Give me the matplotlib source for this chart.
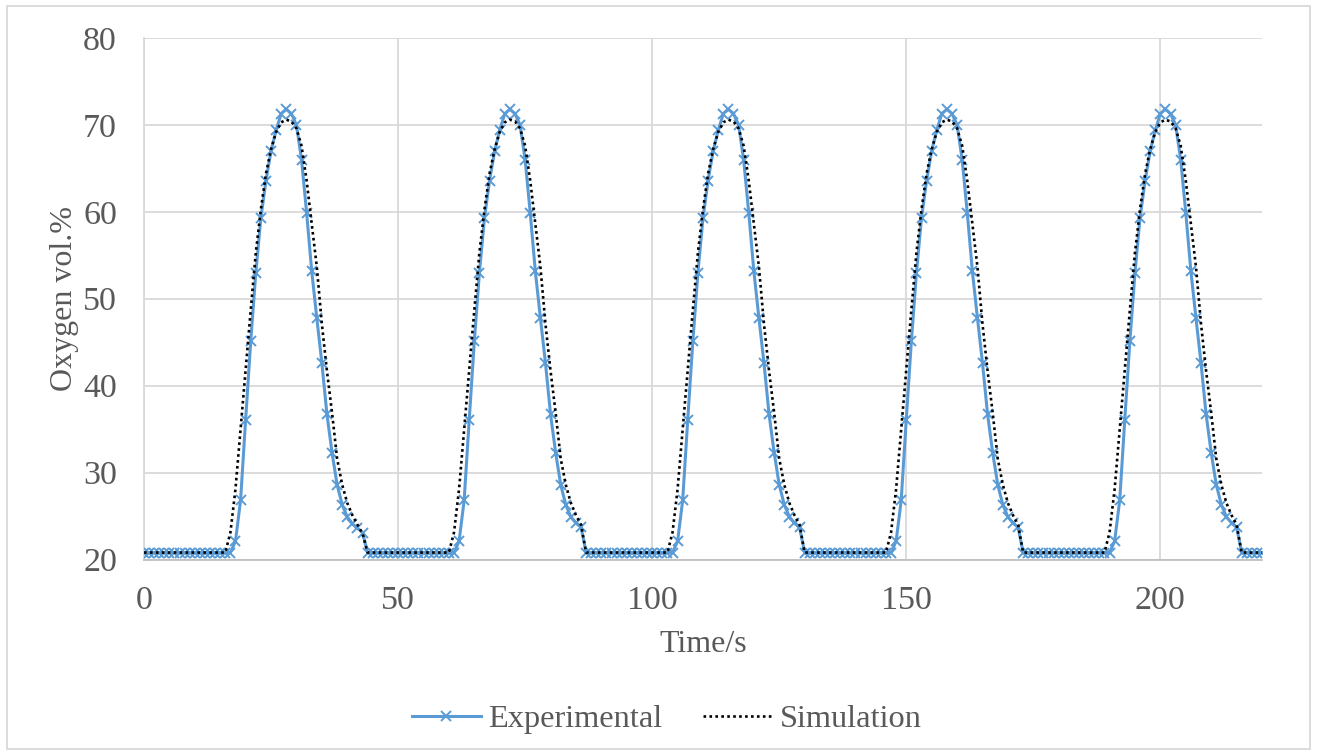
import matplotlib
matplotlib.use("Agg")
import matplotlib.pyplot as plt
from matplotlib.patches import Rectangle

# Measured oxygen concentration, one reading per second (t = 0 ... 220 s)
time_s = list(range(0, 221))

experimental = [
    # 0-17 s
    20.8, 20.8, 20.8, 20.8, 20.8, 20.8, 20.8, 20.8, 20.8, 20.8, 20.8, 20.8, 20.8, 20.8, 20.8, 20.8, 20.8, 20.8,
    # 18-43 s
    22.1, 26.8, 36.1, 45.1, 53.0, 59.3, 63.6, 67.0, 69.4, 71.3, 71.8, 71.3, 70.0, 66.0, 59.9, 53.2, 47.8, 42.6,
    36.7, 32.3, 28.6, 26.3, 24.9, 24.1, 23.6, 23.1,
    # 44-61 s
    20.8, 20.8, 20.8, 20.8, 20.8, 20.8, 20.8, 20.8, 20.8, 20.8, 20.8, 20.8, 20.8, 20.8, 20.8, 20.8, 20.8, 20.8,
    # 62-86 s
    22.1, 26.8, 36.1, 45.1, 53.0, 59.3, 63.6, 67.0, 69.4, 71.3, 71.8, 71.3, 70.0, 66.0, 59.9, 53.2, 47.8, 42.6,
    36.7, 32.3, 28.6, 26.3, 24.9, 24.2, 23.7,
    # 87-104 s
    20.8, 20.8, 20.8, 20.8, 20.8, 20.8, 20.8, 20.8, 20.8, 20.8, 20.8, 20.8, 20.8, 20.8, 20.8, 20.8, 20.8, 20.8,
    # 105-129 s
    22.1, 26.8, 36.1, 45.1, 53.0, 59.3, 63.6, 67.0, 69.4, 71.3, 71.8, 71.3, 70.0, 66.0, 59.9, 53.2, 47.8, 42.6,
    36.7, 32.3, 28.6, 26.3, 24.9, 24.2, 23.7,
    # 130-147 s
    20.8, 20.8, 20.8, 20.8, 20.8, 20.8, 20.8, 20.8, 20.8, 20.8, 20.8, 20.8, 20.8, 20.8, 20.8, 20.8, 20.8, 20.8,
    # 148-172 s
    22.1, 26.8, 36.1, 45.1, 53.0, 59.3, 63.6, 67.0, 69.4, 71.3, 71.8, 71.3, 70.0, 66.0, 59.9, 53.2, 47.8, 42.6,
    36.7, 32.3, 28.6, 26.3, 24.9, 24.2, 23.7,
    # 173-190 s
    20.8, 20.8, 20.8, 20.8, 20.8, 20.8, 20.8, 20.8, 20.8, 20.8, 20.8, 20.8, 20.8, 20.8, 20.8, 20.8, 20.8, 20.8,
    # 191-215 s
    22.1, 26.8, 36.1, 45.1, 53.0, 59.3, 63.6, 67.0, 69.4, 71.3, 71.8, 71.3, 70.0, 66.0, 59.9, 53.2, 47.8, 42.6,
    36.7, 32.3, 28.6, 26.3, 24.9, 24.2, 23.7,
    # 216-220 s
    20.8, 20.8, 20.8, 20.8, 20.8,
]

simulation = [
    # 0-16 s
    20.8, 20.8, 20.8, 20.8, 20.8, 20.8, 20.8, 20.8, 20.8, 20.8, 20.8, 20.8, 20.8, 20.8, 20.8, 20.8, 20.8,
    # 17-43 s
    23.1, 28.1, 35.0, 41.9, 48.7, 55.3, 60.3, 64.4, 67.2, 69.2, 70.3, 70.6, 70.4, 69.6, 67.6, 63.6, 58.7, 53.7,
    47.1, 41.7, 36.9, 31.6, 28.6, 26.5, 25.1, 24.0, 23.0,
    # 44-60 s
    20.8, 20.8, 20.8, 20.8, 20.8, 20.8, 20.8, 20.8, 20.8, 20.8, 20.8, 20.8, 20.8, 20.8, 20.8, 20.8, 20.8,
    # 61-86 s
    23.1, 28.1, 35.0, 41.9, 48.7, 55.3, 60.3, 64.4, 67.2, 69.2, 70.3, 70.6, 70.4, 69.6, 67.6, 63.6, 58.7, 53.7,
    47.1, 41.7, 36.9, 31.6, 28.6, 26.5, 25.1, 24.0,
    # 87-103 s
    20.8, 20.8, 20.8, 20.8, 20.8, 20.8, 20.8, 20.8, 20.8, 20.8, 20.8, 20.8, 20.8, 20.8, 20.8, 20.8, 20.8,
    # 104-129 s
    23.1, 28.1, 35.0, 41.9, 48.7, 55.3, 60.3, 64.4, 67.2, 69.2, 70.3, 70.6, 70.4, 69.6, 67.6, 63.6, 58.7, 53.7,
    47.1, 41.7, 36.9, 31.6, 28.6, 26.5, 25.1, 24.0,
    # 130-146 s
    20.8, 20.8, 20.8, 20.8, 20.8, 20.8, 20.8, 20.8, 20.8, 20.8, 20.8, 20.8, 20.8, 20.8, 20.8, 20.8, 20.8,
    # 147-172 s
    23.1, 28.1, 35.0, 41.9, 48.7, 55.3, 60.3, 64.4, 67.2, 69.2, 70.3, 70.6, 70.4, 69.6, 67.6, 63.6, 58.7, 53.7,
    47.1, 41.7, 36.9, 31.6, 28.6, 26.5, 25.1, 24.0,
    # 173-189 s
    20.8, 20.8, 20.8, 20.8, 20.8, 20.8, 20.8, 20.8, 20.8, 20.8, 20.8, 20.8, 20.8, 20.8, 20.8, 20.8, 20.8,
    # 190-215 s
    23.1, 28.1, 35.0, 41.9, 48.7, 55.3, 60.3, 64.4, 67.2, 69.2, 70.3, 70.6, 70.4, 69.6, 67.6, 63.6, 58.7, 53.7,
    47.1, 41.7, 36.9, 31.6, 28.6, 26.5, 25.1, 24.0,
    # 216-220 s
    20.8, 20.8, 20.8, 20.8, 20.8,
]

x_ticks = [0, 50, 100, 150, 200]
y_ticks = [20, 30, 40, 50, 60, 70, 80]

TEXT = "#595959"
GRID = "#d9d9d9"
BLUE = "#5b9bd5"

plt.rcParams["font.family"] = ["Liberation Serif", "DejaVu Serif"]

W, H = 1317, 755
fig = plt.figure(figsize=(W / 100, H / 100), dpi=100)
ax = fig.add_axes([144 / W, 1 - 559.5 / H, (1262 - 144) / W, (559.5 - 38) / H])

ax.plot(time_s, experimental, color=BLUE, lw=2.2, marker="x", ms=6.5, mew=1.4,
        label="Experimental", zorder=3)
ax.plot(time_s, simulation, color="black", lw=1.9, linestyle=(0, (1, 1.25)),
        label="Simulation", zorder=4)

ax.set_xlim(0, 220)
ax.set_ylim(20, 80)
ax.set_xticks(x_ticks)
ax.set_yticks(y_ticks)
ax.grid(True, color=GRID, lw=1.3, zorder=0)
ax.set_axisbelow(True)

for side in ("top", "right"):
    ax.spines[side].set_visible(False)
ax.spines["left"].set_color(GRID)
ax.spines["left"].set_linewidth(1.3)
ax.spines["bottom"].set_color("#bfbfbf")
ax.spines["bottom"].set_linewidth(1.3)

ax.tick_params(axis="both", length=0, labelsize=24.5, labelcolor=TEXT)
ax.tick_params(axis="y", pad=19.5)
ax.tick_params(axis="x", pad=19)

ax.set_xlabel("Time/s", fontsize=23, color=TEXT, labelpad=10)
ax.set_ylabel("Oxygen vol.%", fontsize=23, color=TEXT, labelpad=3)

leg = fig.legend(loc="center", bbox_to_anchor=(666.5 / W, 1 - 719.5 / H), ncol=2,
                 frameon=False, fontsize=23.3, handlelength=2.15, handletextpad=0.2,
                 columnspacing=1.28, numpoints=1)
for t in leg.get_texts():
    t.set_color(TEXT)

fig.patches.append(Rectangle((7 / W, 1 - 749 / H), (1310 - 7) / W, (749 - 6) / H,
                             transform=fig.transFigure, fill=False,
                             edgecolor=GRID, lw=1.3))

fig.savefig("out.png", dpi=100)
